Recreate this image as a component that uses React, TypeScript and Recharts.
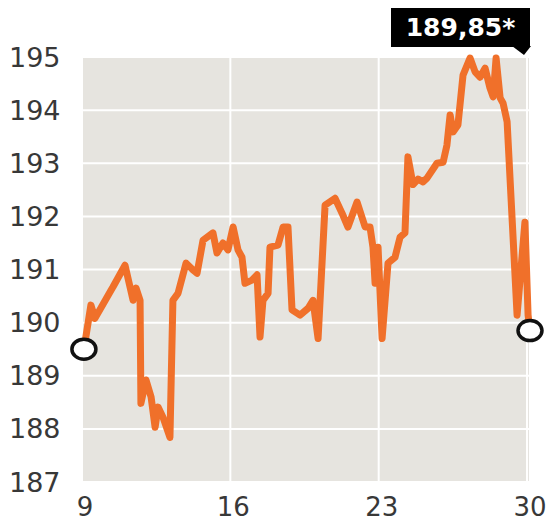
import { LineChart, Line, XAxis, YAxis, CartesianGrid, ReferenceDot } from 'recharts';

// intraday price path, day of month -> price
const days = [
  9.09, 9.42, 9.61, 10.37, 10.46, 11.03, 11.41, 11.55, 11.74, 11.78,
  12.02, 12.26, 12.45, 12.59, 12.82, 13.15, 13.29, 13.53, 13.91, 14.24,
  14.43, 14.71, 15.18, 15.37, 15.65, 15.89, 16.13, 16.36, 16.55, 16.69,
  17.02, 17.26, 17.40, 17.54, 17.78, 17.87, 18.25, 18.49, 18.72, 18.91,
  19.29, 19.67, 19.90, 20.14, 20.47, 20.94, 21.27, 21.55, 21.98, 22.36,
  22.59, 22.73, 22.83, 22.97, 23.16, 23.44, 23.77, 24.01, 24.24, 24.38,
  24.62, 24.86, 25.09, 25.28, 25.75, 26.04, 26.22, 26.37, 26.51, 26.74,
  26.98, 27.31, 27.55, 27.78, 28.02, 28.25, 28.40, 28.54, 28.73, 28.87,
  29.06, 29.53, 29.90, 30.05, 30.14,
];
const prices = [
  189.5, 190.33, 190.08, 190.61, 190.67, 191.08, 190.42, 190.65, 190.42, 188.48,
  188.92, 188.6, 188.03, 188.41, 188.22, 187.84, 190.42, 190.55, 191.12, 190.99,
  190.93, 191.55, 191.69, 191.31, 191.5, 191.37, 191.8, 191.37, 191.23, 190.74,
  190.8, 190.9, 189.73, 190.42, 190.55, 191.42, 191.46, 191.8, 191.8, 190.24,
  190.14, 190.27, 190.42, 189.7, 192.21, 192.34, 192.06, 191.8, 192.27, 191.8,
  191.8, 191.42, 190.74, 191.42, 189.7, 191.12, 191.23, 191.61, 191.69, 193.12,
  192.6, 192.7, 192.65, 192.72, 193.0, 193.02, 193.34, 193.91, 193.59, 193.72,
  194.66, 194.98, 194.72, 194.62, 194.79, 194.42, 194.25, 194.98, 194.23, 194.13,
  193.78, 190.14, 191.89, 190.14, 189.85,
];
const xTicks = [9, 16, 23, 30];
const yTicks = [187, 188, 189, 190, 191, 192, 193, 194, 195];
const lastLabel = '189,85*';

const data = days.map((d, i) => ({ day: d, price: prices[i] }));
const first = data[0];
const last = data[data.length - 1];

const ORANGE = '#f0702a';
const PLOT_BG = '#e6e4df';
const INK = '#383838';
const FONT = '"DejaVu Sans", sans-serif';

const ring = (props: any) => (
  <ellipse cx={props.cx} cy={props.cy} rx={12} ry={10} fill="#fff" stroke="#111" strokeWidth={3.5} />
);

export default function App() {
  return (
    <div style={{ position: 'absolute', left: 0, top: 0, width: 547, height: 521, background: '#fff' }}>
      <LineChart width={547} height={521} data={data} margin={{ top: 57, right: 17, left: 0, bottom: 0 }}>
        <CartesianGrid fill={PLOT_BG} stroke="#ffffff" strokeWidth={2} />
        <XAxis
          dataKey="day"
          type="number"
          domain={[9, 30.14]}
          ticks={xTicks}
          height={39}
          axisLine={false}
          tickLine={false}
          tick={(p: any) => (
            <text x={p.x + 3} y={507} textAnchor="middle" dominantBaseline="central"
              fill={INK} fontFamily={FONT} fontSize={26}>
              {p.payload.value}
            </text>
          )}
        />
        <YAxis
          domain={[187, 195]}
          ticks={yTicks}
          width={82}
          axisLine={false}
          tickLine={false}
          tick={(p: any) => (
            <text x={9} y={p.y} textAnchor="start" dominantBaseline="central"
              fill={INK} fontFamily={FONT} fontSize={27}>
              {p.payload.value}
            </text>
          )}
        />
        <Line
          type="linear"
          dataKey="price"
          stroke={ORANGE}
          strokeWidth={7}
          strokeLinejoin="round"
          dot={false}
          activeDot={false}
          isAnimationActive={false}
        />
        <ReferenceDot x={first.day} y={first.price} shape={ring} />
        <ReferenceDot x={last.day} y={last.price} shape={ring} />
      </LineChart>
      <div style={{
        position: 'absolute', left: 391, top: 8, width: 139, height: 39, background: '#000',
        color: '#fff', fontFamily: FONT, fontWeight: 'bold', fontSize: 25,
        display: 'flex', alignItems: 'center', justifyContent: 'center',
      }}>
        {lastLabel}
      </div>
      <svg style={{ position: 'absolute', left: 0, top: 0 }} width={547} height={60}>
        <polygon points="512,46 531,46 524,55" fill="#000" />
      </svg>
    </div>
  );
}
